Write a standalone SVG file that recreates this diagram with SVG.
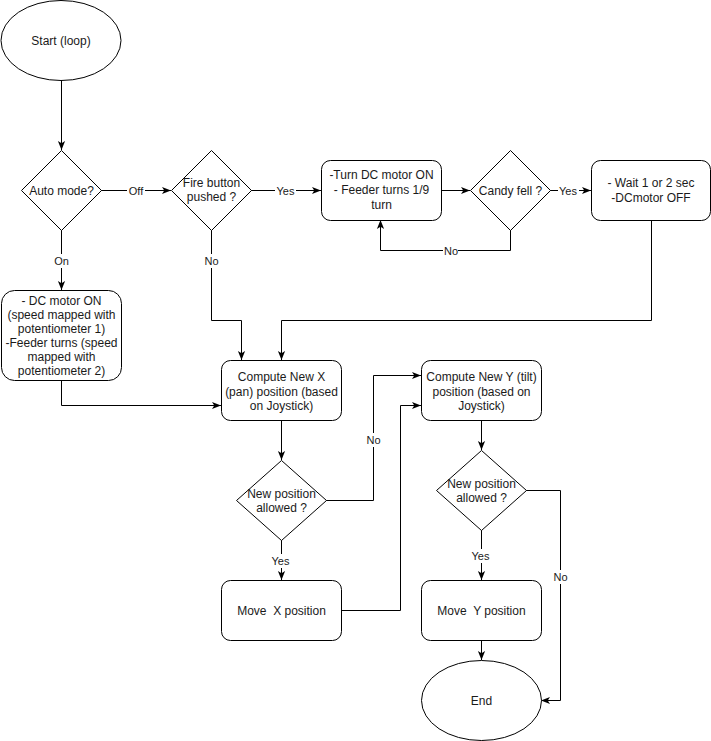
<svg xmlns="http://www.w3.org/2000/svg" width="711" height="741" viewBox="0 0 711 741">
<defs>
<marker id="arr" viewBox="0 0 10 10" refX="10" refY="5" markerWidth="9" markerHeight="9" markerUnits="userSpaceOnUse" orient="auto">
<path d="M0,1 L10,5 L0,9 L2.5,5 Z" fill="#000"/>
</marker>
</defs>
<style>
.shape{fill:#fff;stroke:#000;stroke-width:1}
.t{font-family:"Liberation Sans",Arial,sans-serif;font-size:12px;fill:#1a1a1a;text-anchor:middle;dominant-baseline:central;white-space:pre}
.lbl{font-family:"Liberation Sans",Arial,sans-serif;font-size:11px;fill:#1a1a1a;text-anchor:middle;dominant-baseline:central}
.e{fill:none;stroke:#000;stroke-width:1}
.lb{fill:#fff}
</style>
<rect width="711" height="741" fill="#fff"/>
<g id="connectors">
<path class="e" d="M61.5,80 L61.5,150" marker-end="url(#arr)"/>
<path class="e" d="M101,190.5 L171,190.5" marker-end="url(#arr)"/>
<path class="e" d="M61.5,230 L61.5,290" marker-end="url(#arr)"/>
<path class="e" d="M251,190.5 L321,190.5" marker-end="url(#arr)"/>
<path class="e" d="M211.5,230 L211.5,320.5 L241.5,320.5 L241.5,360" marker-end="url(#arr)"/>
<path class="e" d="M441,190.5 L470,190.5" marker-end="url(#arr)"/>
<path class="e" d="M550,190.5 L591,190.5" marker-end="url(#arr)"/>
<path class="e" d="M510.5,230 L510.5,250.5 L380.5,250.5 L380.5,220" marker-end="url(#arr)"/>
<path class="e" d="M651.5,220 L651.5,320.5 L281.5,320.5 L281.5,360" marker-end="url(#arr)"/>
<path class="e" d="M61.5,380 L61.5,405.5 L221,405.5" marker-end="url(#arr)"/>
<path class="e" d="M281.5,420 L281.5,460" marker-end="url(#arr)"/>
<path class="e" d="M326,500.5 L373.5,500.5 L373.5,375.5 L421,375.5" marker-end="url(#arr)"/>
<path class="e" d="M281.5,540 L281.5,580" marker-end="url(#arr)"/>
<path class="e" d="M341,610.5 L400.5,610.5 L400.5,405.5 L421,405.5" marker-end="url(#arr)"/>
<path class="e" d="M481.5,420 L481.5,450" marker-end="url(#arr)"/>
<path class="e" d="M481.5,530 L481.5,580" marker-end="url(#arr)"/>
<path class="e" d="M526,490.5 L560.5,490.5 L560.5,700.5 L541,700.5" marker-end="url(#arr)"/>
<path class="e" d="M481.5,640 L481.5,660" marker-end="url(#arr)"/>
<rect class="lb" x="127" y="183" width="18" height="14"/><text class="lbl" x="136" y="190.5">Off</text>
<rect class="lb" x="54" y="254" width="15" height="14"/><text class="lbl" x="61.5" y="261">On</text>
<rect class="lb" x="275" y="183" width="21" height="14"/><text class="lbl" x="285.5" y="190.5">Yes</text>
<rect class="lb" x="204" y="254" width="15" height="14"/><text class="lbl" x="211.5" y="261">No</text>
<rect class="lb" x="558" y="183" width="21" height="14"/><text class="lbl" x="568" y="190.5">Yes</text>
<rect class="lb" x="443" y="243" width="15" height="14"/><text class="lbl" x="451" y="250.5">No</text>
<rect class="lb" x="366" y="433" width="15" height="14"/><text class="lbl" x="373.5" y="440">No</text>
<rect class="lb" x="270" y="554" width="21" height="14"/><text class="lbl" x="280.5" y="561">Yes</text>
<rect class="lb" x="470" y="549" width="21" height="14"/><text class="lbl" x="480.5" y="556">Yes</text>
<rect class="lb" x="553" y="570" width="15" height="14"/><text class="lbl" x="560.5" y="577">No</text>
</g>
<g id="start"><ellipse class="shape" cx="61" cy="40.5" rx="60" ry="40"/><text class="t" x="61" y="40.5">Start (loop)</text></g>
<g id="auto"><path class="shape" d="M61.5,150.5 L101.5,190.5 L61.5,230.5 L21.5,190.5 Z"/><text class="t" x="61.5" y="190.5">Auto mode?</text></g>
<g id="fire"><path class="shape" d="M211.5,150.5 L251.5,190.5 L211.5,230.5 L171.5,190.5 Z"/><text class="t" x="211.5" y="183">Fire button</text><text class="t" x="211.5" y="197">pushed ?</text></g>
<g id="turn"><rect class="shape" x="321.5" y="160.5" width="120" height="60" rx="9"/><text class="t" x="381.5" y="175">-Turn DC motor ON</text><text class="t" x="381.5" y="190">- Feeder turns 1/9</text><text class="t" x="381.5" y="205">turn</text></g>
<g id="candy"><path class="shape" d="M510.5,150.5 L550.5,190.5 L510.5,230.5 L470.5,190.5 Z"/><text class="t" x="510.5" y="190.5">Candy fell ?</text></g>
<g id="wait"><rect class="shape" x="591.5" y="160.5" width="119" height="60" rx="9"/><text class="t" x="651" y="183">- Wait 1 or 2 sec</text><text class="t" x="651" y="198">-DCmotor OFF</text></g>
<g id="dcon"><rect class="shape" x="1.5" y="290.5" width="120" height="90" rx="13"/><text class="t" x="61.5" y="301">- DC motor ON</text><text class="t" x="61.5" y="315">(speed mapped with</text><text class="t" x="61.5" y="329">potentiometer 1)</text><text class="t" x="61.5" y="343">-Feeder turns (speed</text><text class="t" x="61.5" y="357">mapped with</text><text class="t" x="61.5" y="371">potentiometer 2)</text></g>
<g id="compx"><rect class="shape" x="221.5" y="360.5" width="120" height="60" rx="9"/><text class="t" x="281.5" y="377">Compute New X</text><text class="t" x="281.5" y="391.5">(pan) position (based</text><text class="t" x="281.5" y="406">on Joystick)</text></g>
<g id="compy"><rect class="shape" x="421.5" y="360.5" width="120" height="60" rx="9"/><text class="t" x="481.5" y="377">Compute New Y (tilt)</text><text class="t" x="481.5" y="391.5">position (based on</text><text class="t" x="481.5" y="406">Joystick)</text></g>
<g id="diamx"><path class="shape" d="M281.5,460.5 L326.5,500.5 L281.5,540.5 L236.5,500.5 Z"/><text class="t" x="281.5" y="493.5">New position</text><text class="t" x="281.5" y="507.5">allowed ?</text></g>
<g id="diamy"><path class="shape" d="M481.5,450.5 L526.5,490.5 L481.5,530.5 L436.5,490.5 Z"/><text class="t" x="481.5" y="483.5">New position</text><text class="t" x="481.5" y="497.5">allowed ?</text></g>
<g id="movex"><rect class="shape" x="221.5" y="580.5" width="120" height="60" rx="9"/><text class="t" x="281.5" y="610.5" xml:space="preserve">Move  X position</text></g>
<g id="movey"><rect class="shape" x="421.5" y="580.5" width="120" height="60" rx="9"/><text class="t" x="481.5" y="610.5" xml:space="preserve">Move  Y position</text></g>
<g id="end"><ellipse class="shape" cx="481.5" cy="700.5" rx="60" ry="40"/><text class="t" x="481.5" y="700.5">End</text></g>
</svg>
